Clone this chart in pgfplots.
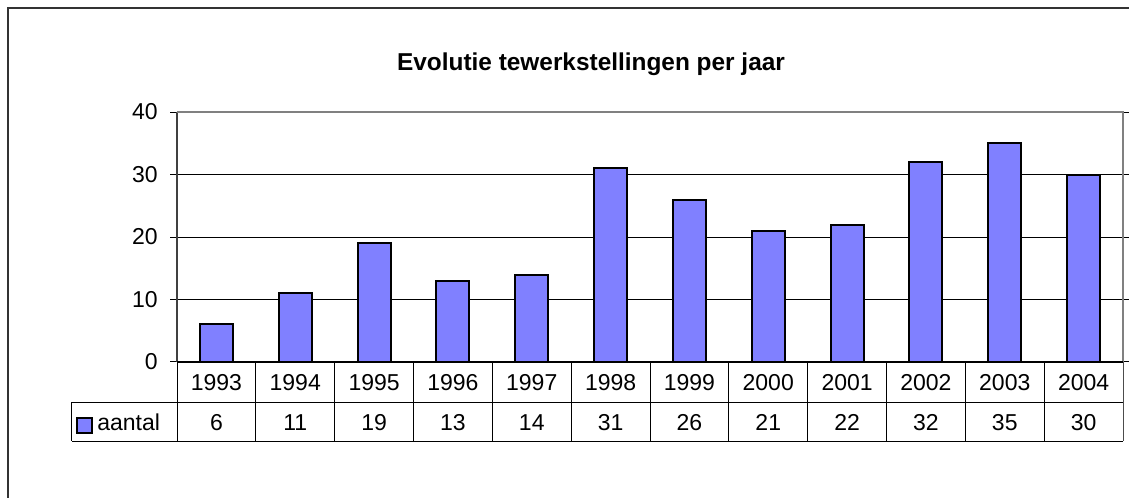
\documentclass[border=0pt]{standalone}
\usepackage{fontspec}
\setmainfont{Liberation Sans}
\usepackage{pgfplots}
\usepackage{pgfplotstable}
\pgfplotsset{compat=1.18}
\definecolor{barblue}{HTML}{8080FF}
\pgfplotstableread{
x year v
0.5 1993 6
1.5 1994 11
2.5 1995 19
3.5 1996 13
4.5 1997 14
5.5 1998 31
6.5 1999 26
7.5 2000 21
8.5 2001 22
9.5 2002 32
10.5 2003 35
11.5 2004 30
}\data
\begin{document}
\begin{tikzpicture}
\path[use as bounding box] (0bp,0bp) rectangle (564.5bp,249bp);
\draw[line width=1bp, color=black!80] (3.75bp,-5bp) -- (3.75bp,244.75bp) -- (570bp,244.75bp);
\node[anchor=base, inner sep=0pt, font=\fontsize{12.2bp}{14bp}\selectfont\bfseries] at (295.5bp,213.5bp) {Evolutie tewerkstellingen per jaar};
\begin{axis}[
  at={(88.5bp,68bp)}, anchor=south west,
  width=473bp, height=125bp, scale only axis,
  xmin=0, xmax=12, ymin=0, ymax=40,
  clip=false,
  axis line style={draw=none},
  xtick={0.5,1.5,2.5,3.5,4.5,5.5,6.5,7.5,8.5,9.5,10.5,11.5},
  xticklabels={1993,1994,1995,1996,1997,1998,1999,2000,2001,2002,2003,2004},
  major x tick style={draw=none},
  xticklabel style={anchor=base, inner sep=0pt, yshift=-10.6bp},
  ytick={0,10,20,30,40},
  ymajorgrids, grid style={black, line width=0.5bp},
  tick align=outside, major tick length=3.5bp,
  major y tick style={black, line width=0.5bp},
  yticklabel style={anchor=east, inner sep=0pt, xshift=-6bp},
  tick label style={font=\fontsize{11.5bp}{13bp}\selectfont},
  /pgf/number format/assume math mode=true,
]
\addplot[ybar, bar width=0.42, fill=barblue, draw=black, line width=1bp] table[x=x, y=v] {\data};
\addplot[draw=none, nodes near coords, nodes near coords align={anchor=base}, point meta=explicit,
  every node near coord/.append style={inner sep=0pt, text=black, font=\fontsize{11.5bp}{13bp}\selectfont}]
  table[x=x, y expr=-10.91, meta=v] {\data};
\draw[black!75, line width=1bp] (axis cs:0,0) -- (axis cs:0,40);
\draw[gray, line width=1bp] (axis cs:0,40) -- (axis cs:12,40) -- (axis cs:12,0);
\draw[black, line width=0.75bp] (axis cs:0,0) -- (axis cs:12,0);
\pgfplotsinvokeforeach{0,...,11}{\draw[black, line width=0.5bp] (axis cs:#1,0) -- (axis cs:#1,-12.68);}
\draw[gray!60!black, line width=0.5bp] (axis cs:12,0) -- (axis cs:12,-12.68);
\draw[black, line width=0.5bp] (axis cs:-1.332,-6.42) -- (axis cs:12,-6.42);
\draw[black, line width=0.5bp] (axis cs:-1.332,-12.68) -- (axis cs:12,-12.68);
\draw[black, line width=0.5bp] (axis cs:-1.332,-6.42) -- (axis cs:-1.332,-12.68);
\draw[black, line width=0.75bp, fill=barblue] (axis cs:-1.269,-8.99) rectangle (axis cs:-1.078,-11.40);
\node[anchor=base west, inner sep=0pt, font=\fontsize{11.5bp}{13bp}\selectfont] at (axis cs:-1.015,-10.91) {aantal};
\end{axis}
\end{tikzpicture}
\end{document}
